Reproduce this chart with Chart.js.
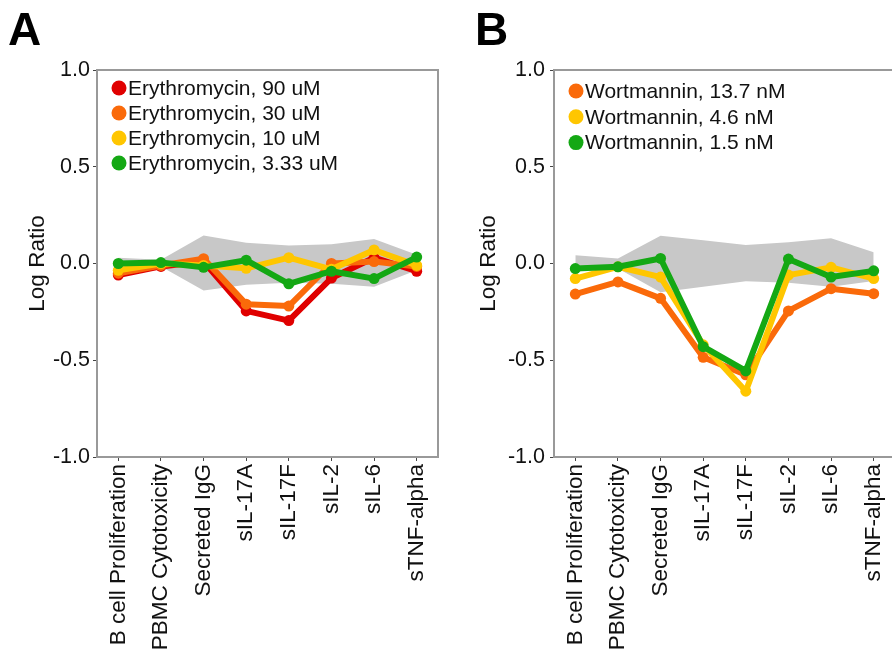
<!DOCTYPE html>
<html>
<head>
<meta charset="utf-8">
<script src="https://cdn.jsdelivr.net/npm/chart.js@4.4.0/dist/chart.umd.min.js"></script>
<style>
  html, body { margin: 0; padding: 0; background: #fff; overflow: hidden; }
  body { width: 892px; height: 664px; position: relative; }
  .panel { position: absolute; top: 0; width: 448px; height: 664px; }
  .letter { position: absolute; top: 6px; font: bold 46px "Liberation Sans", Arial, sans-serif; line-height: 46px; color: #000; }
</style>
</head>
<body>
<div class="panel" style="left:0px"><canvas id="chartA"></canvas></div>
<div class="panel" style="left:457px"><canvas id="chartB"></canvas></div>
<div class="letter" style="left:8px">A</div>
<div class="letter" style="left:475px">B</div>
<script>
// categories and tick labels
var categories = ['B cell Proliferation', 'PBMC Cytotoxicity', 'Secreted IgG', 'sIL-17A', 'sIL-17F', 'sIL-2', 'sIL-6', 'sTNF-alpha'];
var yTicks = [-1.0, -0.5, 0.0, 0.5, 1.0];

// panel A : erythromycin
var labelsA = ['Erythromycin, 90 uM', 'Erythromycin, 30 uM', 'Erythromycin, 10 uM', 'Erythromycin, 3.33 uM'];
var ery90  = [-0.06, -0.015, 0.01, -0.245, -0.295, -0.075, 0.03, -0.04];
var ery30  = [-0.05, -0.01, 0.025, -0.21, -0.22, 0.0, 0.01, -0.015];
var ery10  = [-0.035, 0.0, -0.01, -0.025, 0.03, -0.03, 0.07, -0.01];
var ery333 = [0.0, 0.005, -0.02, 0.017, -0.105, -0.04, -0.078, 0.033];
var bandUpperA = [0.03, 0.02, 0.145, 0.107, 0.093, 0.10, 0.127, 0.045];
var bandLowerA = [-0.04, -0.015, -0.14, -0.11, -0.10, -0.105, -0.12, -0.035];

// panel B : wortmannin
var labelsB = ['Wortmannin, 13.7 nM', 'Wortmannin, 4.6 nM', 'Wortmannin, 1.5 nM'];
var wort137 = [-0.158, -0.095, -0.18, -0.485, -0.575, -0.245, -0.13, -0.156];
var wort46  = [-0.078, -0.017, -0.07, -0.42, -0.66, -0.06, -0.02, -0.078];
var wort15  = [-0.026, -0.017, 0.026, -0.43, -0.555, 0.023, -0.07, -0.038];
var bandUpperB = [0.043, 0.026, 0.144, 0.12, 0.095, 0.11, 0.13, 0.058];
var bandLowerB = [-0.04, -0.026, -0.148, -0.12, -0.092, -0.10, -0.12, -0.09];

var red = '#e00000';
var orange = '#fa6a0a';
var yellow = '#ffc600';
var green = '#14a814';
var bandColor = '#c8c8c8';
var fontFamily = '"Liberation Sans", Arial, sans-serif';

Chart.defaults.font.family = fontFamily;
Chart.defaults.color = '#111';

// legend drawn inside the plot, top left
var legendInside = {
    id: 'legendInside',
    afterDatasetsDraw: function(chart, args, opts) {
        var ctx = chart.ctx;
        var area = chart.chartArea;
        var row = 0;
        ctx.save();
        ctx.font = '21px ' + fontFamily;
        ctx.textBaseline = 'middle';
        chart.data.datasets.forEach(function(ds) {
            if (!ds.label) return;
            var x = area.left + opts.x;
            var y = area.top + opts.y + row * opts.step;
            ctx.beginPath();
            ctx.arc(x, y, 7.5, 0, Math.PI * 2);
            ctx.fillStyle = ds.borderColor;
            ctx.fill();
            ctx.fillStyle = '#111';
            ctx.fillText(ds.label, x + 9, y + 1);
            row++;
        });
        ctx.restore();
    }
};

// grey box around the plot
var frame = {
    id: 'frame',
    afterDraw: function(chart) {
        var ctx = chart.ctx;
        var a = chart.chartArea;
        ctx.save();
        ctx.strokeStyle = '#999';
        ctx.lineWidth = 2;
        ctx.strokeRect(a.left, a.top, a.right - a.left, a.bottom - a.top);
        ctx.restore();
    }
};

function makeChart(id, labels, series, colors, upper, lower, titlePad, tickPad, legendY, legendStep) {
    var datasets = series.map(function(data, i) {
        return {
            label: labels[i],
            data: data,
            borderColor: colors[i],
            backgroundColor: colors[i],
            pointBackgroundColor: colors[i],
            borderWidth: 6,
            borderJoinStyle: 'round',
            pointRadius: 5.5,
            pointHoverRadius: 5.5,
            pointBorderWidth: 0,
            tension: 0,
            fill: false,
            order: series.length - i
        };
    });
    datasets.push({ data: upper, fill: '+1', backgroundColor: bandColor, borderWidth: 0, pointRadius: 0, order: 20 });
    datasets.push({ data: lower, fill: false, borderWidth: 0, pointRadius: 0, order: 21 });

    var gridOpts = { display: true, drawOnChartArea: false, drawTicks: true, tickLength: 4, color: '#444', lineWidth: 1 };

    return new Chart(document.getElementById(id), {
        type: 'line',
        data: { labels: categories, datasets: datasets },
        options: {
            responsive: true,
            maintainAspectRatio: false,
            animation: false,
            layout: { padding: { top: 70, right: 10, left: 0, bottom: 0 } },
            plugins: {
                legend: { display: false },
                tooltip: { enabled: false },
                legendInside: { x: 22, y: legendY, step: legendStep }
            },
            scales: {
                x: {
                    offset: true,
                    grid: Object.assign({ offset: false }, gridOpts),
                    border: { display: false },
                    ticks: { autoSkip: false, maxRotation: 90, minRotation: 90, padding: 3, color: '#111', font: { size: 22.5 } },
                    afterFit: function(s) { s.height = 207; }
                },
                y: {
                    min: yTicks[0],
                    max: yTicks[yTicks.length - 1],
                    grid: gridOpts,
                    border: { display: false },
                    ticks: {
                        stepSize: yTicks[1] - yTicks[0],
                        padding: tickPad,
                        color: '#111',
                        font: { size: 21.5 },
                        callback: function(v) { return v.toFixed(1); }
                    },
                    title: { display: true, text: 'Log Ratio', color: '#111', font: { size: 22.5 }, padding: { top: titlePad, bottom: 0 } },
                    afterFit: function(s) { s.width = 97; }
                }
            }
        },
        plugins: [legendInside, frame]
    });
}

makeChart('chartA', labelsA, [ery90, ery30, ery10, ery333], [red, orange, yellow, green], bandUpperA, bandLowerA, 24, 3, 18, 25);
makeChart('chartB', labelsB, [wort137, wort46, wort15], [orange, yellow, green], bandUpperB, bandLowerB, 18, 5, 21, 25.8);
</script>
</body>
</html>
